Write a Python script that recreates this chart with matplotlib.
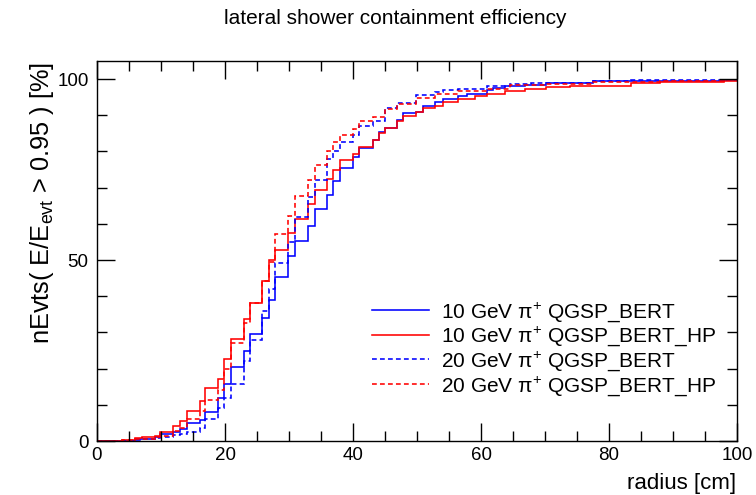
import matplotlib
matplotlib.use("Agg")
import matplotlib.pyplot as plt
from matplotlib.ticker import MultipleLocator
from matplotlib.lines import Line2D

plt.rcParams['font.family'] = ['Liberation Sans', 'DejaVu Sans']
plt.rcParams['mathtext.fontset'] = 'custom'
plt.rcParams['mathtext.rm'] = 'Liberation Sans'
plt.rcParams['mathtext.it'] = 'Liberation Sans:italic'

# common step edges of the radius histograms [cm]
edges = [0, 3.9, 5.9, 7.0, 9.0, 9.9, 11.9, 13.0, 14.0, 16.1, 16.9, 18.9, 19.9, 20.9,
         22.9, 23.9, 25.8, 26.8, 27.8, 29.9, 30.9, 33.0, 34.0, 35.9, 36.9, 37.9,
         40.0, 41.0, 43.1, 44.1, 45.0, 46.8, 47.8, 49.9, 50.9, 52.8, 54.1, 56.4,
         57.8, 59.0, 60.9, 61.9, 63.8, 64.5, 66.9, 67.8, 70.2, 73.9, 77.5, 83.5,
         88.0, 96.3, 97.9, 100]

# containment efficiency [%] per interval
bert_10 = [0, 0, 0.5, 0.5, 1.1, 2.0, 2.6, 3.2, 5.0, 5.7, 8.1, 12.0, 15.7, 20.5,
           24.9, 29.7, 33.9, 39.0, 45.2, 51.2, 55.4, 59.4, 64.2, 67.9, 71.8, 75.3,
           78.5, 80.9, 83.1, 85.4, 86.5, 88.7, 90.5, 91.0, 92.7, 93.7, 94.5, 95.2,
           95.9, 95.9, 97.0, 97.5, 98.0, 98.1, 98.3, 98.4, 98.9, 98.9, 99.4, 99.4,
           99.4, 99.4, 99.8]
bert_hp_10 = [0, 0.3, 0.9, 1.0, 1.4, 2.6, 4.2, 5.6, 8.2, 11.1, 14.6, 17.1, 22.6, 28.1,
              33.7, 38.1, 44.3, 50.0, 52.8, 57.6, 61.4, 65.6, 69.3, 72.5, 75.0, 77.6,
              79.4, 81.3, 83.1, 85.0, 86.5, 88.3, 89.9, 91.0, 92.0, 92.7, 93.6, 94.5,
              94.5, 95.2, 95.9, 95.9, 96.8, 96.8, 97.3, 97.3, 97.8, 98.1, 98.1, 98.9,
              99.1, 99.3, 99.6]
bert_20 = [0, 0, 0.3, 0.5, 0.8, 1.2, 1.6, 2.0, 2.6, 3.7, 6.0, 9.0, 12.0, 15.7,
           22.2, 28.0, 36.0, 42.0, 49.3, 54.9, 61.9, 67.4, 72.2, 78.0, 80.1, 82.6,
           84.5, 87.0, 88.4, 88.4, 91.9, 93.4, 93.4, 95.7, 95.7, 96.5, 96.9, 97.4,
           97.4, 97.4, 98.1, 98.1, 98.1, 98.6, 98.6, 98.9, 98.9, 98.9, 99.4, 99.7,
           99.7, 99.7, 99.8]
bert_hp_20 = [0, 0.2, 0.5, 0.6, 1.0, 1.5, 2.8, 3.7, 6.0, 8.3, 11.4, 14.0, 19.9, 27.1,
              32.5, 38.0, 44.2, 49.4, 57.3, 62.3, 67.7, 72.2, 76.2, 80.1, 82.6, 84.5,
              86.3, 88.3, 89.6, 89.6, 91.6, 93.2, 93.2, 94.8, 94.8, 95.8, 95.8, 96.6,
              96.6, 96.6, 97.4, 97.4, 97.4, 98.3, 98.3, 98.3, 98.7, 98.7, 99.3, 99.3,
              99.6, 99.6, 99.8]

labels = [r'10 GeV π$^{+}$ QGSP_BERT', r'10 GeV π$^{+}$ QGSP_BERT_HP',
          r'20 GeV π$^{+}$ QGSP_BERT', r'20 GeV π$^{+}$ QGSP_BERT_HP']

W, H = 756, 495
fig = plt.figure(figsize=(W / 100, H / 100), dpi=100)
ax = fig.add_axes([97 / W, 54 / H, 640 / W, 380 / H])

dash = (0, (3, 2))
series = [(bert_10, 'blue', '-'), (bert_hp_10, 'red', '-'),
          (bert_20, 'blue', dash), (bert_hp_20, 'red', dash)]
handles = []
for vals, col, ls in series:
    ax.stairs(vals, edges, baseline=None, color=col, linestyle=ls, linewidth=1.15)
    handles.append(Line2D([], [], color=col, linestyle=ls, linewidth=1.15))

ax.set_xlim(0, 100)
ax.set_ylim(0, 105)
ax.xaxis.set_major_locator(MultipleLocator(20))
ax.xaxis.set_minor_locator(MultipleLocator(5))
ax.yaxis.set_major_locator(MultipleLocator(50))
ax.yaxis.set_minor_locator(MultipleLocator(10))
ax.tick_params(which='both', direction='in', top=True, right=True, width=1.0,
               labelsize=13.5)
ax.tick_params(which='major', length=13)
ax.tick_params(which='minor', length=7)
ax.tick_params(axis='x', pad=4)
ax.tick_params(axis='y', pad=6)
for s in ax.spines.values():
    s.set_linewidth(1.0)

leg = ax.legend(handles, labels, loc='upper left',
                bbox_to_anchor=(372 / W, 1 - 300 / H), bbox_transform=fig.transFigure,
                frameon=False, fontsize=15, handlelength=2.75, handletextpad=0.55,
                labelspacing=0.05, borderpad=0, borderaxespad=0)

fig.text(395 / W, 1 - 18 / H, 'lateral shower containment efficiency',
         ha='center', va='center', fontsize=15)
fig.text(42 / W, 1 - 62 / H, r'nEvts( E/E$_{\mathrm{evt}}$ > 0.95 ) [%]',
         rotation=90, ha='center', va='top', fontsize=18.3)
fig.text(736 / W, 1 - 483 / H, 'radius [cm]', ha='right', va='center', fontsize=16)

fig.savefig('out.png', dpi=100)
